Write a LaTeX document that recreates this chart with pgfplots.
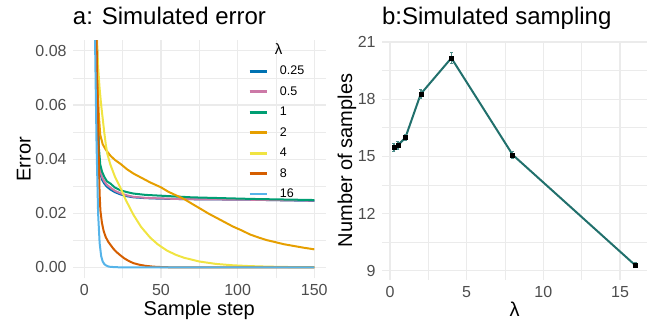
\documentclass[border=0pt]{standalone}
\usepackage{fontspec}
\setmainfont{Liberation Sans}
\usepackage{pgfplots}
\pgfplotsset{compat=1.18}
\definecolor{cA}{HTML}{0072B2}
\definecolor{cB}{HTML}{CC79A7}
\definecolor{cC}{HTML}{009E73}
\definecolor{cD}{HTML}{E69F00}
\definecolor{cE}{HTML}{F0E442}
\definecolor{cF}{HTML}{D55E00}
\definecolor{cG}{HTML}{56B4E9}
\definecolor{gridc}{HTML}{EBEBEB}
\definecolor{tickc}{HTML}{4D4D4D}
\definecolor{tealc}{HTML}{21706C}
\pgfplotsset{
  gg/.style={
    scale only axis,
    axis line style={draw=none},
    tick style={draw=none},
    major tick length=0pt, minor tick length=0pt,
    grid=both,
    minor tick num=1,
    major grid style={draw=gridc, line width=1.1bp},
    minor grid style={draw=gridc, line width=0.55bp},
    /pgf/number format/assume math mode=true,
    tick label style={font=\fontsize{16bp}{16bp}\selectfont, text=tickc, inner sep=0pt},
    yticklabel style={xshift=-6bp},
    xticklabel style={yshift=-6bp},
    label style={font=\fontsize{20bp}{20bp}\selectfont, inner sep=0pt},
    title style={font=\fontsize{24bp}{24bp}\selectfont, inner sep=0pt, anchor=base west},
    scaled ticks=false,
  }
}
\begin{document}
\begin{tikzpicture}
\path[use as bounding box] (0,0) rectangle (651bp,322bp);
\begin{axis}[gg,
  at={(72.8bp,43.7bp)}, anchor=south west,
  width=253bp, height=238.3bp,
  xmin=-7.5, xmax=157.5, ymin=-0.004, ymax=0.084,
  xtick={0,50,100,150}, ytick={0,0.02,0.04,0.06,0.08},
  yticklabel style={/pgf/number format/.cd, fixed, fixed zerofill, precision=2},
  title={a: Simulated error},
  title style={at={(axis description cs:0,1.0407)}},
  xlabel={Sample step},
  xlabel style={at={(axis description cs:0.5,-0.158)}, anchor=base},
  ylabel={Error},
  ylabel style={at={(axis description cs:-0.167,0.5)}, anchor=base},
  legend style={at={(axis description cs:0.6925,0.9862)}, anchor=north west, draw=none, fill=none,
    inner sep=0pt, row sep=10.3bp, column sep=12bp,
    font=\fontsize{12.5bp}{12.5bp}\selectfont, nodes={inner sep=0pt}},
  legend cell align=left,
  legend image code/.code={\draw[#1, line width=2.7bp] (0bp,0bp) -- (17bp,0bp);},
]
\addlegendimage{empty legend}
\addlegendentry{\fontsize{15bp}{15bp}\selectfont\hspace*{-5bp}λ}
\addplot[cA, line width=2bp] coordinates {(7.5,0.2)(8.2,0.084)(8.8,0.057)(9.4,0.042)(10.4,0.035)(11.5,0.0325)(13,0.031)(14.8,0.0298)(17,0.0288)(20,0.0278)(23.5,0.027)(28,0.0263)(32,0.0259)(40,0.0256)(50,0.0254)(60,0.0253)(70,0.0252)(90,0.0251)(110,0.025)(130,0.0248)(150,0.0246)};
\addlegendentry{0.25}
\addplot[cB, line width=2bp] coordinates {(7.5,0.2)(8.2,0.084)(8.8,0.058)(9.4,0.043)(10.4,0.036)(11.5,0.0335)(13,0.0318)(14.8,0.0305)(17,0.0295)(20,0.0283)(23.5,0.0274)(28,0.0266)(32,0.0261)(40,0.0257)(50,0.0255)(60,0.0253)(70,0.0252)(90,0.0251)(110,0.025)(130,0.0248)(150,0.0247)};
\addlegendentry{0.5}
\addplot[cC, line width=2bp] coordinates {(7.5,0.2)(8.2,0.084)(8.8,0.06)(9.4,0.045)(10.4,0.038)(11.5,0.0355)(13,0.0335)(14.8,0.0318)(17,0.031)(20,0.0295)(23.5,0.0285)(28,0.0278)(32,0.0273)(40,0.0268)(50,0.0265)(60,0.0262)(70,0.0259)(90,0.0256)(110,0.0253)(130,0.0251)(150,0.0249)};
\addlegendentry{1}
\addplot[cD, line width=2bp] coordinates {(7,0.2)(7.8,0.084)(8.5,0.07)(9.5,0.056)(10.4,0.049)(12,0.0455)(14,0.0435)(17,0.0413)(20,0.0397)(23.5,0.0383)(28,0.0362)(32,0.0347)(37,0.0332)(43,0.0314)(50,0.0296)(55,0.0279)(60,0.0266)(65,0.0253)(70,0.0236)(76,0.0216)(81,0.0199)(87,0.0181)(92,0.0166)(97,0.0151)(103,0.0136)(108,0.0122)(114,0.011)(119,0.0101)(125,0.0093)(130,0.0086)(137,0.0079)(143,0.0073)(150,0.0067)};
\addlegendentry{2}
\addplot[cE, line width=2bp] coordinates {(7.5,0.2)(8.3,0.084)(9,0.074)(10,0.066)(11,0.06)(12,0.055)(13,0.05)(14,0.0455)(15,0.042)(17,0.038)(20,0.0335)(23.5,0.0295)(27,0.025)(32,0.0195)(37,0.015)(43,0.011)(48,0.0085)(54,0.0062)(60,0.0046)(65,0.0036)(75,0.0022)(86,0.0013)(97,0.0008)(108,0.0005)(120,0.0003)(135,0.00015)(150,0.0001)};
\addlegendentry{4}
\addplot[cF, line width=2bp] coordinates {(7,0.2)(8,0.084)(8.6,0.064)(9.1,0.05)(9.6,0.036)(10,0.027)(10.5,0.021)(11.5,0.0165)(12.6,0.0135)(14,0.0112)(15.5,0.0096)(17,0.0084)(19,0.0069)(21,0.0057)(23.5,0.0045)(26,0.0034)(29,0.0024)(32,0.0016)(36,0.001)(40,0.0006)(45,0.0003)(50,0.00015)(60,0)(150,0)};
\addlegendentry{8}
\addplot[cG, line width=2bp] coordinates {(6,0.2)(7,0.084)(8,0.045)(9,0.02)(10,0.009)(11,0.0042)(12,0.0022)(13,0.0013)(14,0.0008)(16,0.0003)(20,0.0001)(30,0)(150,0)};
\addlegendentry{16}
\end{axis}
\begin{axis}[gg,
  at={(381.8bp,42bp)}, anchor=south west,
  width=265.6bp, height=239.3bp,
  xmin=-0.5375, xmax=16.7875, ymin=8.51, ymax=21.07,
  xtick={0,5,10,15}, ytick={9,12,15,18,21},
  title={b:Simulated sampling},
  title style={at={(axis description cs:0,1.0447)}},
  xlabel={λ},
  xlabel style={at={(axis description cs:0.5,-0.1525)}, anchor=base},
  ylabel={Number of samples},
  ylabel style={at={(axis description cs:-0.112,0.5)}, anchor=base},
]
\addplot[tealc, line width=2bp] coordinates {(0.25,15.46)(0.5,15.57)(1,15.98)(2,18.27)(4,20.16)(8,15.08)(16,9.28)};
\addplot[draw=none, mark=none, error bars/.cd, y dir=both, y explicit,
  error bar style={draw=tealc!80!white, line width=1.6bp},
  error mark options={rotate=90, mark size=1.6bp, line width=1bp, draw=tealc!80!white}]
  coordinates {(0.25,15.46) +- (0,0.2) (0.5,15.57) +- (0,0.2) (1,15.98) +- (0,0.15) (2,18.27) +- (0,0.25) (4,20.16) +- (0,0.28) (8,15.08) +- (0,0.2) (16,9.28) +- (0,0.13)};
\addplot[only marks, mark=square*, mark size=2bp, black] coordinates {(0.25,15.46)(0.5,15.57)(1,15.98)(2,18.27)(4,20.16)(8,15.08)(16,9.28)};
\end{axis}
\end{tikzpicture}
\end{document}
